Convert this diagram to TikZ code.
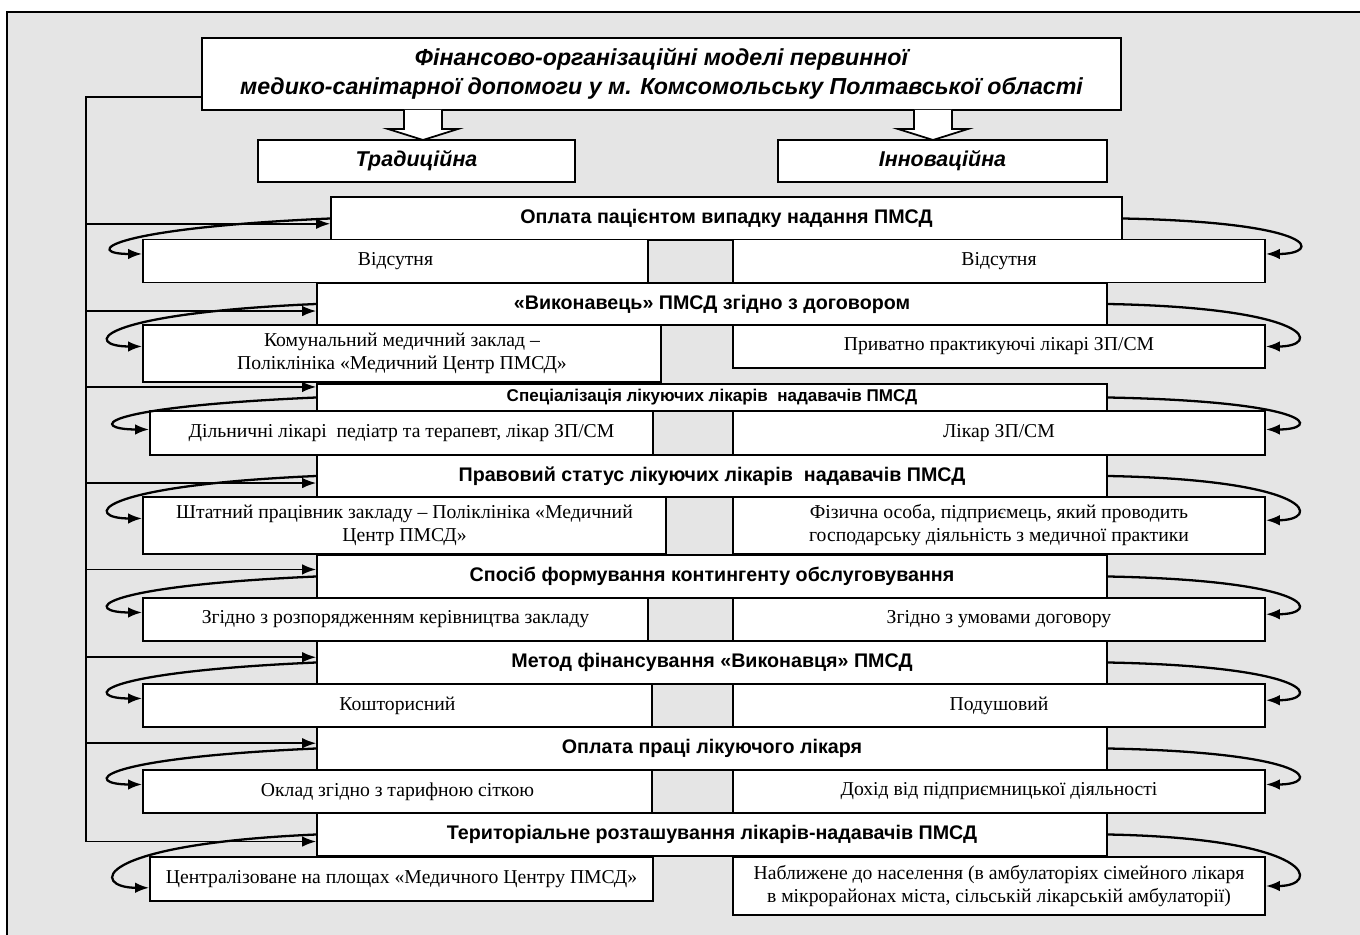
\documentclass[tikz,border=0pt]{standalone}
\usepackage{fontspec}
\setmainfont{Liberation Serif}
\setsansfont{Liberation Sans}
\usetikzlibrary{arrows.meta}
\definecolor{bggray}{HTML}{E5E5E5}

\begin{document}
\begin{tikzpicture}[x=0.02cm, y=-0.02cm,
    titlebox/.style={draw, line width=1.1pt, fill=white, align=center, inner sep=0pt,
        font=\sffamily\bfseries\itshape\fontsize{13.2}{16.5}\selectfont},
    kindbox/.style={draw, line width=1pt, fill=white, inner sep=0pt, minimum height=0.84cm,
        font=\sffamily\bfseries\itshape\fontsize{12.2}{14}\selectfont},
    headbox/.style={draw, line width=1pt, fill=white, inner sep=0pt, minimum width=15.8cm,
        minimum height=0.85cm, font=\sffamily\bfseries\fontsize{11.2}{13}\selectfont},
    subbox/.style={draw, line width=1pt, fill=white, align=center, inner sep=0pt,
        minimum height=0.86cm, font=\fontsize{11.2}{13}\selectfont},
    rbox/.style={subbox, minimum width=10.64cm},
    feed/.style={line width=1pt, -{Latex[length=8pt,width=6pt]}},
    swing/.style={line width=1.3pt, -{Latex[length=8pt,width=6pt]}}]

    % background
    \useasboundingbox (0,0) rectangle (1360,935);
    \fill[bggray] (7,12) rectangle (1360,935);
    \draw[thick] (7,935) -- (7,12) -- (1360,12);

    % title and kinds
    \node[titlebox, minimum width=18.38cm, minimum height=1.44cm] at (661.5,74) (title)
        {Фінансово-організаційні моделі первинної\\медико-санітарної допомоги у м. Комсомольську Полтавської області};
    \node[kindbox, minimum width=6.34cm] at (416.5,161) (trad) {Традиційна};
    \node[kindbox, minimum width=6.58cm] at (942.5,161) (innov) {Інноваційна};

    \draw[line width=1pt, fill=white] (404,110) -- (404,129) -- (388,129) -- (423,140) -- (458,129) -- (442,129) -- (442,110);
    \draw[line width=1pt, fill=white] (914,110) -- (914,129) -- (898,129) -- (933,140) -- (968,129) -- (952,129) -- (952,110);

    % headers
    \node[headbox, minimum width=15.82cm] at (726.5,218.5) (h1) {Оплата пацієнтом випадку надання ПМСД};
    \node[headbox] at (712,304) (h2) {«Виконавець» ПМСД згідно з договором};
    \node[headbox, minimum height=0.54cm, font=\sffamily\bfseries\fontsize{9.7}{11}\selectfont] at (712,397.5) (h3)
        {Спеціалізація лікуючих лікарів \ надавачів ПМСД};
    \node[headbox] at (712,476) (h4) {Правовий статус лікуючих лікарів \ надавачів ПМСД};
    \node[headbox] at (712,576.5) (h5) {Спосіб формування контингенту обслуговування};
    \node[headbox] at (712,662.5) (h6) {Метод фінансування «Виконавця» ПМСД};
    \node[headbox] at (712,748.5) (h7) {Оплата праці лікуючого лікаря};
    \node[headbox] at (712,834.5) (h8) {Територіальне розташування лікарів-надавачів ПМСД};

    % answers
    \node[subbox, minimum width=10.1cm] at (395.5,261) (s1L) {Відсутня};
    \node[rbox] at (999,261) (s1R) {Відсутня};
    \node[subbox, minimum width=10.36cm, minimum height=1.14cm] at (402,353.5) (s2L)
        {Комунальний медичний заклад –\\Поліклініка «Медичний Центр ПМСД»};
    \node[rbox] at (999,346.5) (s2R) {Приватно практикуючі лікарі ЗП/СМ};
    \node[subbox, minimum width=10.06cm, minimum height=0.88cm] at (401.5,433) (s3L)
        {Дільничні лікарі \ педіатр та терапевт, лікар ЗП/СМ};
    \node[rbox, minimum height=0.88cm] at (999,433) (s3R) {Лікар ЗП/СМ};
    \node[subbox, minimum width=10.46cm, minimum height=1.14cm] at (404.5,525.5) (s4L)
        {Штатний працівник закладу – Поліклініка «Медичний\\Центр ПМСД»};
    \node[rbox, minimum height=1.14cm] at (999,525.5) (s4R)
        {Фізична особа, підприємець, який проводить\\господарську діяльність з медичної практики};
    \node[subbox, minimum width=10.1cm] at (395.5,619.5) (s5L) {Згідно з розпорядженням керівництва закладу};
    \node[rbox] at (999,619.5) (s5R) {Згідно з умовами договору};
    \node[subbox, minimum width=10.18cm] at (397.5,705.5) (s6L) {Кошторисний};
    \node[rbox] at (999,705.5) (s6R) {Подушовий};
    \node[subbox, minimum width=10.18cm] at (397.5,791.5) (s7L) {Оклад згідно з тарифною сіткою};
    \node[rbox] at (999,791.5) (s7R) {Дохід від підприємницької діяльності};
    \node[subbox, minimum width=10.06cm, minimum height=0.88cm] at (401.5,879) (s8L)
        {Централізоване на площах «Медичного Центру ПМСД»};
    \node[rbox, minimum height=1.16cm] at (999,886) (s8R)
        {Наближене до населення (в амбулаторіях сімейного лікаря\\в мікрорайонах міста, сільській лікарській амбулаторії)};

    % spine from the title to every header
    \coordinate (top) at (86,97);
    \draw[feed] (title.west |- top) -- (top) |- ([yshift=-4pt]h8.west);
    \draw[feed] ([yshift=-3pt]h1.west -| top) -- ([yshift=-3pt]h1.west);
    \draw[feed] ([yshift=-4pt]h2.west -| top) -- ([yshift=-4pt]h2.west);
    \draw[feed] ([yshift=6pt]h3.west -| top) -- ([yshift=6pt]h3.west);
    \draw[feed] ([yshift=-4pt]h4.west -| top) -- ([yshift=-4pt]h4.west);
    \draw[feed] ([yshift=4pt]h5.west -| top) -- ([yshift=4pt]h5.west);
    \draw[feed] ([yshift=3pt]h6.west -| top) -- ([yshift=3pt]h6.west);
    \draw[feed] ([yshift=3pt]h7.west -| top) -- ([yshift=3pt]h7.west);

    % loops from headers down to the answers
    \draw[swing] (h1.west) .. controls +(-228,10) and +(-58,0) .. ([yshift=4pt]s1L.west);
    \draw[swing] (h2.west) .. controls +(-228,10) and +(-58,0) .. ([yshift=4pt]s2L.west);
    \draw[swing] (h3.west) .. controls +(-228,10) and +(-58,0) .. ([yshift=2pt]s3L.west);
    \draw[swing] (h4.west) .. controls +(-228,10) and +(-58,0) .. ([yshift=4pt]s4L.west);
    \draw[swing] (h5.west) .. controls +(-228,10) and +(-58,0) .. ([yshift=4pt]s5L.west);
    \draw[swing] (h6.west) .. controls +(-228,10) and +(-58,0) .. ([yshift=4pt]s6L.west);
    \draw[swing] (h7.west) .. controls +(-228,10) and +(-58,0) .. ([yshift=4pt]s7L.west);
    \draw[swing] (h8.west) .. controls +(-228,10) and +(-58,0) .. ([yshift=-5pt]s8L.west);

    \draw[swing] (h1.east) .. controls +(200,4) and +(55,0) .. ([yshift=4pt]s1R.east);
    \draw[swing] (h2.east) .. controls +(210,4) and +(55,0) .. (s2R.east);
    \draw[swing] (h3.east) .. controls +(210,4) and +(55,0) .. ([yshift=2pt]s3R.east);
    \draw[swing] (h4.east) .. controls +(210,4) and +(55,0) .. ([yshift=3pt]s4R.east);
    \draw[swing] (h5.east) .. controls +(210,4) and +(55,0) .. ([yshift=3pt]s5R.east);
    \draw[swing] (h6.east) .. controls +(210,4) and +(55,0) .. ([yshift=3pt]s6R.east);
    \draw[swing] (h7.east) .. controls +(210,4) and +(55,0) .. ([yshift=4pt]s7R.east);
    \draw[swing] (h8.east) .. controls +(210,4) and +(55,0) .. (s8R.east);
\end{tikzpicture}
\end{document}
